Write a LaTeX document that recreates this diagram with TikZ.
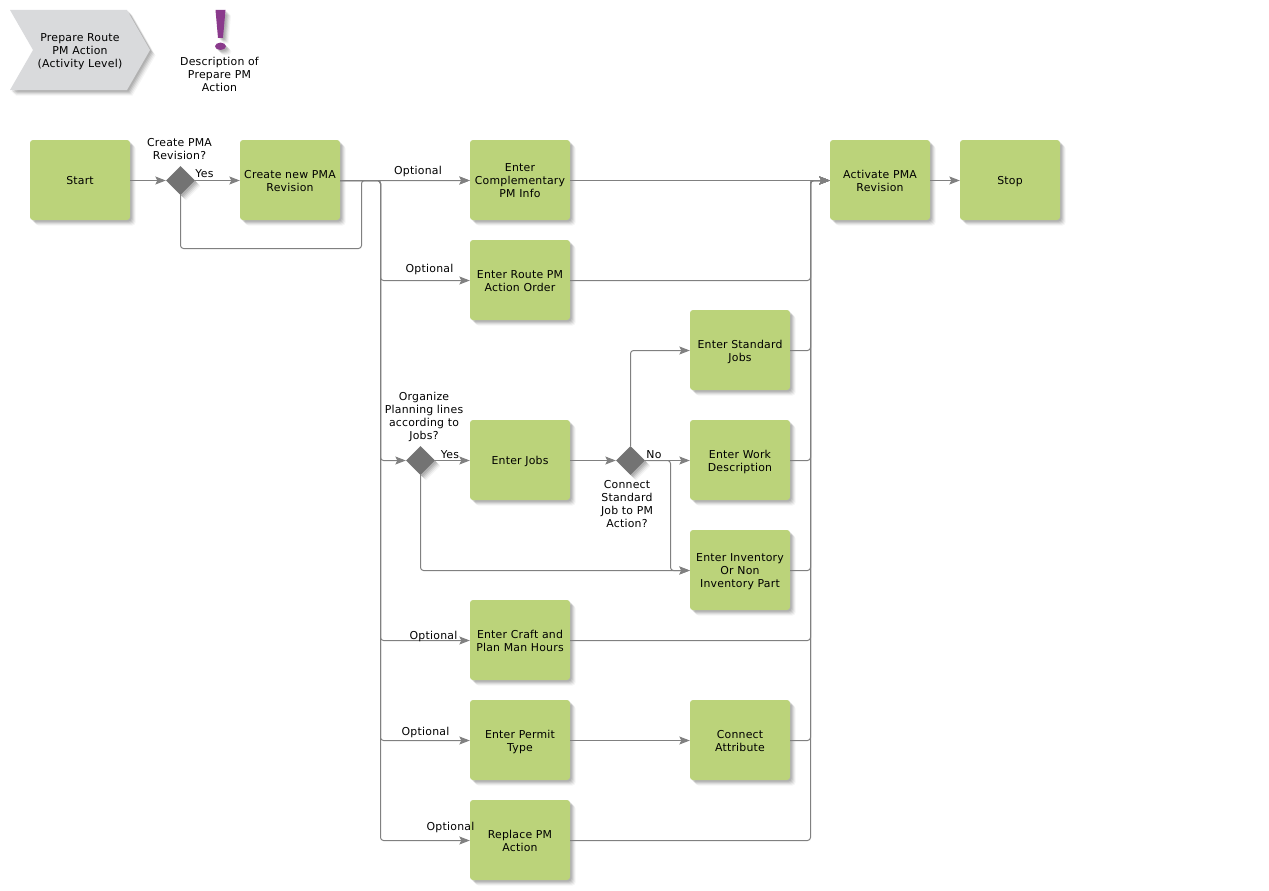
\documentclass[tikz,border=0pt]{standalone}
\usepackage{fontspec}
\setmainfont{DejaVu Sans}[LetterSpace=2]
\usetikzlibrary{shapes.geometric,arrows.meta,shadows}
\definecolor{boxgreen}{HTML}{BBD37A}
\definecolor{linegray}{HTML}{808080}
\definecolor{diagray}{HTML}{737373}
\definecolor{chevgray}{HTML}{D9DADC}
\definecolor{excl}{HTML}{8A3A8C}
\newcommand{\tsa}{\rule{0pt}{12pt}}
\newcommand{\tsb}{\rule[-3pt]{0pt}{3pt}}
\tikzset{
  softshadow/.style={
    drop shadow={shadow xshift=5.5pt,shadow yshift=-5.5pt,fill=black,opacity=.04},
    drop shadow={shadow xshift=4.5pt,shadow yshift=-4.5pt,fill=black,opacity=.06},
    drop shadow={shadow xshift=3.5pt,shadow yshift=-3.5pt,fill=black,opacity=.08},
    drop shadow={shadow xshift=2.5pt,shadow yshift=-2.5pt,fill=black,opacity=.09},
    drop shadow={shadow xshift=1.5pt,shadow yshift=-1.5pt,fill=black,opacity=.09}},
  txt/.style={font=\fontsize{10.9}{13}\selectfont,align=center,inner sep=0pt,text=black},
  activity/.style={txt,rectangle,rounded corners=3pt,fill=boxgreen,minimum width=100pt,minimum height=80pt,softshadow},
  gate/.style={diamond,aspect=1,fill=diagray,minimum size=29pt,inner sep=0pt,softshadow},
  conn/.style={draw=linegray,line width=1pt,rounded corners=3pt},
  arr/.style={conn,-{Stealth[length=10.5pt,width=8pt,inset=2pt,fill=linegray]}}
}
\begin{document}
\begin{tikzpicture}[x=1pt,y=-1pt]
\useasboundingbox (0,0) rectangle (1269,891);
% header
\path[fill=chevgray,softshadow] (10,10) -- (127,10) -- (150,50) -- (127,90) -- (10,90) -- (33,50) -- cycle;
\node[txt] (chevlabel) at (80,50) {\tsa Prepare Route\\PM Action\\\tsb (Activity Level)};
\path[fill=excl,softshadow] (215.5,10) -- (225.5,10) -- (223,38) -- (218,38) -- cycle;
\path[fill=excl,softshadow] (220.5,46.3) ellipse [x radius=5.5,y radius=3.7];
\node[txt] (desclabel) at (219.5,74) {\tsa Description of\\Prepare PM\\\tsb Action};
% activities
\node[activity] (start) at (80,180) {\tsa\tsb Start};
\node[activity] (newrev) at (290,180) {\tsa Create new PMA\\\tsb Revision};
\node[activity] (compl) at (520,180) {\tsa Enter\\Complementary\\\tsb PM Info};
\node[activity] (activate) at (880,180) {\tsa Activate PMA\\\tsb Revision};
\node[activity] (stop) at (1010,180) {\tsa\tsb Stop};
\node[activity] (route) at (520,280) {\tsa Enter Route PM\\\tsb Action Order};
\node[activity] (std) at (740,350) {\tsa Enter Standard\\\tsb Jobs};
\node[activity] (jobs) at (520,460) {\tsa\tsb Enter Jobs};
\node[activity] (work) at (740,460) {\tsa Enter Work\\\tsb Description};
\node[activity] (inv) at (740,570) {\tsa Enter Inventory\\Or Non\\\tsb Inventory Part};
\node[activity] (craft) at (520,640) {\tsa Enter Craft and\\\tsb Plan Man Hours};
\node[activity] (permit) at (520,740) {\tsa Enter Permit\\\tsb Type};
\node[activity] (attr) at (740,740) {\tsa Connect\\\tsb Attribute};
\node[activity] (replace) at (520,840) {\tsa Replace PM\\\tsb Action};
% gateways
\node[gate] (dA) at (180.5,180.5) {};
\node[gate] (dB) at (420.5,460.5) {};
\node[gate] (dC) at (630.5,460.5) {};
% routing points
\coordinate (tA) at (380.5,180.5);
\coordinate (tB) at (810.5,180.5);
\coordinate (lp) at (361.5,248.5);
\coordinate (tC) at (670.5,460.5);
% connectors (half-pixel shifts keep the lines on the pixel grid)
\draw[arr] ([yshift=-.5pt]start.east) -- (dA.west);
\draw[arr] (dA.east) -- ([yshift=-.5pt]newrev.west);
\draw[arr] ([yshift=-.5pt]newrev.east) -- ([yshift=-.5pt]compl.west);
\draw[arr] (dA.south) |- (lp) |- ([yshift=-.5pt]compl.west);
\draw[arr] ([yshift=-.5pt]newrev.east) -- (tA) |- ([yshift=-.5pt]route.west);
\draw[arr] ([yshift=-.5pt]newrev.east) -- (tA) |- (dB.west);
\draw[arr] ([yshift=-.5pt]newrev.east) -- (tA) |- ([yshift=-.5pt]craft.west);
\draw[arr] ([yshift=-.5pt]newrev.east) -- (tA) |- ([yshift=-.5pt]permit.west);
\draw[arr] ([yshift=-.5pt]newrev.east) -- (tA) |- ([yshift=-.5pt]replace.west);
\draw[arr] (dB.east) -- ([yshift=-.5pt]jobs.west);
\draw[arr] ([yshift=-.5pt]jobs.east) -- (dC.west);
\draw[arr] (dC.north) |- ([yshift=-.5pt]std.west);
\draw[arr] (dC.east) -- ([yshift=-.5pt]work.west);
\draw[arr] (dC.east) -- (tC) |- ([yshift=-.5pt]inv.west);
\draw[arr] (dB.south) |- ([yshift=-.5pt]inv.west);
\draw[arr] ([yshift=-.5pt]permit.east) -- ([yshift=-.5pt]attr.west);
\draw[arr] ([yshift=-.5pt]compl.east) -- ([yshift=-.5pt]activate.west);
\draw[arr] ([yshift=-.5pt]route.east) -| (tB) -- ([yshift=-.5pt]activate.west);
\draw[arr] ([yshift=-.5pt]std.east) -| (tB) -- ([yshift=-.5pt]activate.west);
\draw[arr] ([yshift=-.5pt]work.east) -| (tB) -- ([yshift=-.5pt]activate.west);
\draw[arr] ([yshift=-.5pt]inv.east) -| (tB) -- ([yshift=-.5pt]activate.west);
\draw[arr] ([yshift=-.5pt]craft.east) -| (tB) -- ([yshift=-.5pt]activate.west);
\draw[arr] ([yshift=-.5pt]attr.east) -| (tB) -- ([yshift=-.5pt]activate.west);
\draw[arr] ([yshift=-.5pt]replace.east) -| (tB) -- ([yshift=-.5pt]activate.west);
\draw[arr] ([yshift=-.5pt]activate.east) -- ([yshift=-.5pt]stop.west);
% labels
\node[txt] (lA) at (179.5,148.5) {\tsa Create PMA\\\tsb Revision?};
\node[txt] (lB) at (204.5,173) {\tsa\tsb Yes};
\node[txt] (lC) at (418,170) {\tsa\tsb Optional};
\node[txt] (lD) at (429.5,268) {\tsa\tsb Optional};
\node[txt] (lE) at (424,415) {\tsa Organize\\Planning lines\\according to\\\tsb Jobs?};
\node[txt] (lF) at (450,454) {\tsa\tsb Yes};
\node[txt] (lG) at (654,454) {\tsa\tsb No};
\node[txt] (lH) at (627,503) {\tsa Connect\\Standard\\Job to PM\\\tsb Action?};
\node[txt] (lI) at (433.5,635) {\tsa\tsb Optional};
\node[txt] (lJ) at (425.5,731) {\tsa\tsb Optional};
\node[txt] (lK) at (450.5,826) {\tsa\tsb Optional};
\end{tikzpicture}
\end{document}
